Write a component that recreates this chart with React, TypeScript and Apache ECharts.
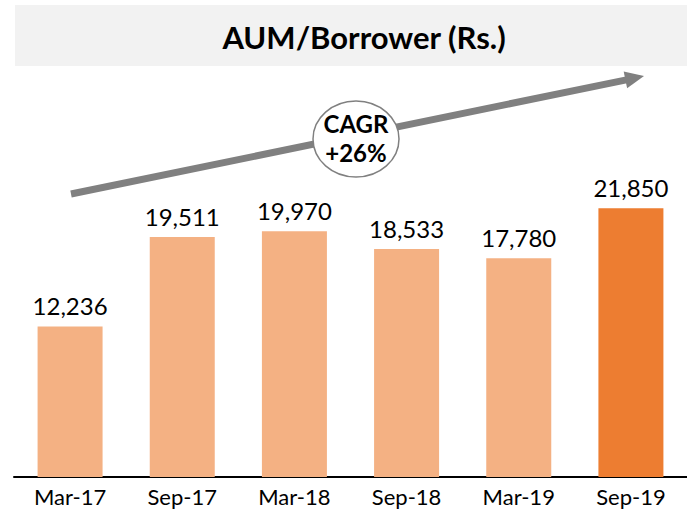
import React, { useEffect, useRef } from "react";
import * as echarts from "echarts";

const categories = ["Mar-17", "Sep-17", "Mar-18", "Sep-18", "Mar-19", "Sep-19"];
const values = [12236, 19511, 19970, 18533, 17780, 21850];
const barColors = ["#F4B183", "#F4B183", "#F4B183", "#F4B183", "#F4B183", "#ED7D31"];
const titleText = "AUM/Borrower (Rs.)";
const cagrLines = ["CAGR", "+26%"];

const FONT = "Lato, 'Open Sans', sans-serif";

export default function App() {
  const ref = useRef<HTMLDivElement>(null);
  useEffect(() => {
    if (!ref.current) return;
    const chart = echarts.init(ref.current, null, { renderer: "svg" });
    const tip = [644, 76];
    const dir = [0.979, -0.202];
    const perp = [0.202, 0.979];
    const headLen = 19;
    const halfW = 8.5;
    const base = [tip[0] - headLen * dir[0], tip[1] - headLen * dir[1]];
    chart.setOption({
      animation: false,
      grid: { left: 14, right: -15, top: 108, bottom: 40, containLabel: false },
      xAxis: {
        type: "category",
        data: categories,
        axisLine: { show: true, lineStyle: { color: "#000", width: 2 } },
        axisTick: { show: false },
        axisLabel: { color: "#000", fontSize: 22, fontFamily: FONT, margin: 8 },
      },
      yAxis: { type: "value", min: 0, max: 30000, show: false, splitLine: { show: false } },
      series: [
        {
          type: "bar",
          barWidth: 65,
          data: values.map((v, i) => ({ value: v, itemStyle: { color: barColors[i] } })),
          label: {
            show: true,
            position: "top",
            distance: 9,
            color: "#000",
            fontSize: 24,
            fontFamily: FONT,
            formatter: (p: any) => Number(p.value).toLocaleString("en-US"),
          },
        },
      ],
      graphic: [
        { type: "rect", shape: { x: 15, y: 5, width: 700, height: 61 }, style: { fill: "#F2F2F2" }, z: 0 },
        {
          type: "text",
          x: 364,
          y: 37,
          style: {
            text: titleText,
            fontSize: 31,
            fontWeight: "bold",
            fontFamily: FONT,
            fill: "#000",
            align: "center",
            verticalAlign: "middle",
          },
        },
        {
          type: "line",
          shape: { x1: 71, y1: 194, x2: base[0] + 1, y2: base[1] },
          style: { stroke: "#808080", lineWidth: 7 },
          z: 10,
        },
        {
          type: "polygon",
          shape: {
            points: [
              tip,
              [base[0] + halfW * perp[0], base[1] + halfW * perp[1]],
              [base[0] - halfW * perp[0], base[1] - halfW * perp[1]],
            ],
          },
          style: { fill: "#808080" },
          z: 10,
        },
        {
          type: "ellipse",
          shape: { cx: 356, cy: 139, rx: 43, ry: 38 },
          style: { fill: "#fff", stroke: "#808080", lineWidth: 1.5 },
          z: 11,
        },
        {
          type: "text",
          x: 356,
          y: 123,
          z: 12,
          style: { text: cagrLines[0], fontSize: 24, fontWeight: "bold", fontFamily: FONT, fill: "#000", align: "center", verticalAlign: "middle" },
        },
        {
          type: "text",
          x: 356,
          y: 152,
          z: 12,
          style: { text: cagrLines[1], fontSize: 24, fontWeight: "bold", fontFamily: FONT, fill: "#000", align: "center", verticalAlign: "middle" },
        },
      ],
    });
    return () => chart.dispose();
  }, []);
  return (
    <div
      ref={ref}
      style={{ position: "fixed", left: 0, top: 0, width: 687, height: 517, background: "#fff" }}
    />
  );
}
